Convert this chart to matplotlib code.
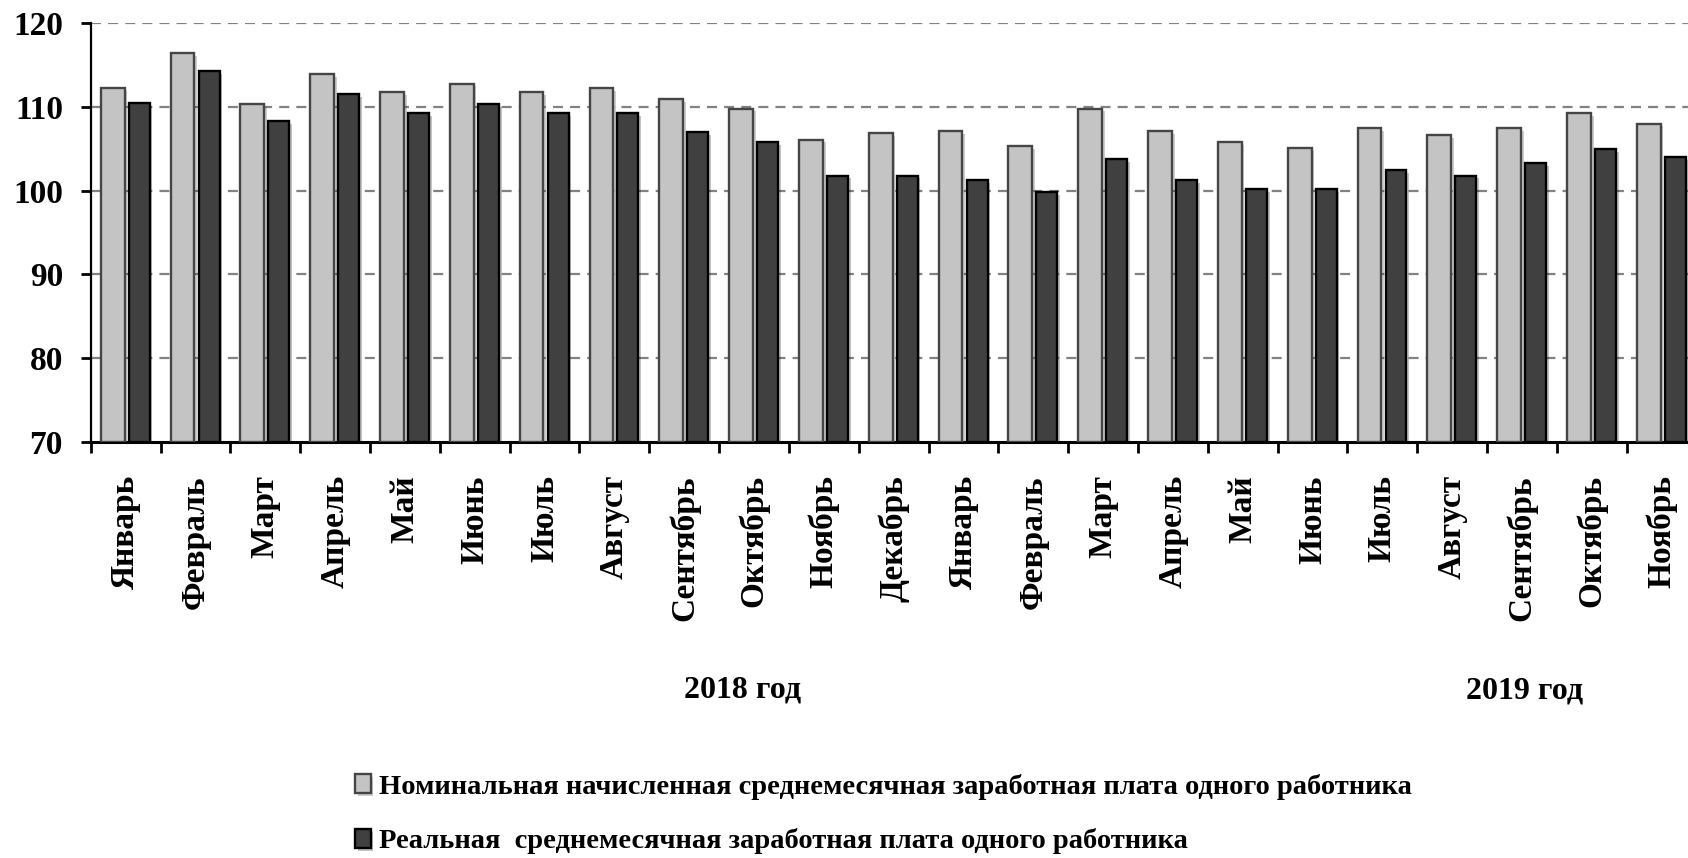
import numpy as np
import matplotlib
matplotlib.use("Agg")
import matplotlib.pyplot as plt
from matplotlib import patheffects as pe

months = ["Январь", "Февраль", "Март", "Апрель", "Май", "Июнь", "Июль",
          "Август", "Сентябрь", "Октябрь", "Ноябрь", "Декабрь",
          "Январь", "Февраль", "Март", "Апрель", "Май", "Июнь", "Июль",
          "Август", "Сентябрь", "Октябрь", "Ноябрь"]
nominal = [112.3, 116.4, 110.3, 113.9, 111.8, 112.8, 111.8, 112.3, 110.9, 109.8,
           106.1, 106.9, 107.1, 105.3, 109.8, 107.1, 105.8, 105.1, 107.5, 106.6,
           107.5, 109.3, 108.0]
real = [110.5, 114.3, 108.3, 111.5, 109.3, 110.3, 109.3, 109.3, 107.0, 105.8,
        101.8, 101.8, 101.3, 99.8, 103.8, 101.3, 100.2, 100.2, 102.5, 101.8,
        103.3, 105.0, 104.0]
yticks = [70, 80, 90, 100, 110, 120]
years = ["2018 год", "2019 год"]
legend_labels = ["Номинальная начисленная среднемесячная заработная плата одного работника",
                 "Реальная  среднемесячная заработная плата одного работника"]

plt.rcParams['font.family'] = ['Liberation Serif', 'DejaVu Serif']
plt.rcParams['font.weight'] = 'bold'

fig = plt.figure(figsize=(16.88, 8.58), dpi=100)
ax = fig.add_axes([90.7 / 1688, 1 - 441.7 / 858, 23 * 69.82 / 1688, (441.7 - 23.3) / 858])

x = np.arange(len(months))
shadow = [pe.SimplePatchShadow(offset=(2, -2), alpha=0.25), pe.Normal()]
b1 = ax.bar(x - 0.185, [v - 70 for v in nominal], width=0.34, bottom=70,
            color="#c4c4c4", edgecolor="#454545", linewidth=1.7, zorder=3,
            label=legend_labels[0])
b2 = ax.bar(x + 0.195, [v - 70 for v in real], width=0.30, bottom=70,
            color="#404040", edgecolor="#000000", linewidth=1.7, zorder=3,
            label=legend_labels[1])
for p in list(b1) + list(b2):
    p.set_path_effects(shadow)

ax.set_xlim(-0.5, len(months) - 0.5)
ax.set_ylim(70, 120)
ax.set_yticks(yticks)
ax.set_yticklabels([str(t) for t in yticks], fontsize=24, fontweight='bold')
ax.set_xticks(x)
ax.set_xticklabels(months, rotation=90, fontsize=24, fontweight='bold')
ax.set_xticks(np.arange(len(months) + 1) - 0.5, minor=True)
ax.tick_params(axis='x', which='major', length=0, pad=24)
ax.tick_params(axis='x', which='minor', length=8, width=2, direction='out')
ax.tick_params(axis='y', which='major', length=7, width=2, direction='out', pad=13)

for yv in yticks[1:]:
    ax.axhline(yv, color="#828282", linewidth=1.6, linestyle=(0, (4.5, 3.2)), zorder=1)

for s in ['top', 'right']:
    ax.spines[s].set_visible(False)
ax.spines['left'].set_linewidth(1.6)
ax.spines['bottom'].set_linewidth(2.2)

fig.text(743 / 1688, 1 - 690 / 858, years[0], ha='center', va='center',
         fontsize=23, fontweight='bold')
fig.text(1525 / 1688, 1 - 691 / 858, years[1], ha='center', va='center',
         fontsize=23, fontweight='bold')

leg = fig.legend(handles=[b1, b2], labels=legend_labels,
                 loc='center left', bbox_to_anchor=(355 / 1688, 1 - 814 / 858),
                 frameon=False, handlelength=0.55, handleheight=0.65,
                 handletextpad=0.3, labelspacing=1.0, borderpad=0, borderaxespad=0,
                 prop={'weight': 'bold', 'size': 20.5})

fig.savefig("out.png", dpi=100)
